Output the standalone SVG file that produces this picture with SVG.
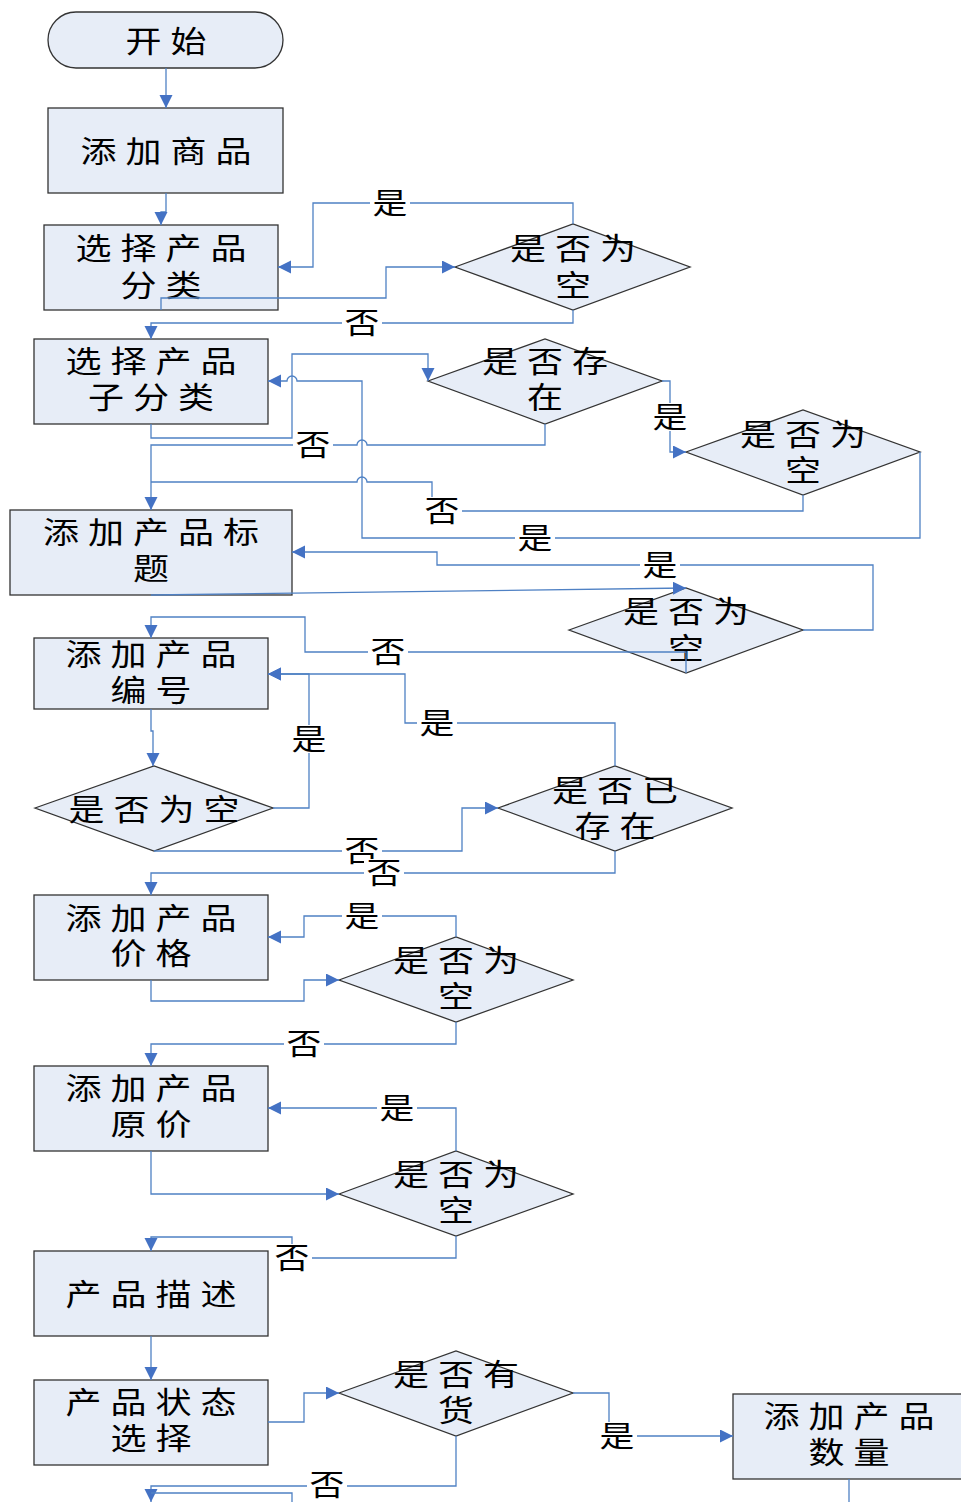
<svg xmlns="http://www.w3.org/2000/svg" width="961" height="1502" viewBox="0 0 961 1502">
<style>
.n{fill:#E7EDF7;stroke:#333;stroke-width:1.3}
.t{font-family:"Noto Sans CJK SC","Noto Sans CJK JP",sans-serif;font-size:30px;letter-spacing:7.5px;text-anchor:middle;fill:#000}
.c path{fill:none;stroke:#4F81C4;stroke-width:1.3}
.lb rect{fill:#fff}
.lb text{font-family:"Noto Sans CJK SC","Noto Sans CJK JP",sans-serif;font-size:29px;text-anchor:middle;fill:#000}
</style>
<defs>
<marker id="a" markerUnits="userSpaceOnUse" markerWidth="14" markerHeight="14" refX="13" refY="6.5" orient="auto"><path d="M0,0 L13,6.5 L0,13 z" fill="#4472C4"/></marker>
</defs>
<rect width="961" height="1502" fill="#fff"/>

<g id="start"><rect class="n" x="48" y="12" width="235" height="56" rx="28" ry="28"/><text class="t" transform="translate(170.5,51.5) scale(1.2,1)">开始</text></g>
<g id="n1"><rect class="n" x="48" y="108" width="235" height="85"/><text class="t" transform="translate(170.5,161.5) scale(1.2,1)">添加商品</text></g>
<g id="n2"><rect class="n" x="44" y="225" width="234" height="85"/><text class="t" transform="translate(165.5,258.5) scale(1.2,1)">选择产品</text><text class="t" transform="translate(165.5,295.5) scale(1.2,1)">分类</text></g>
<g id="n3"><rect class="n" x="34" y="339" width="234" height="85"/><text class="t" transform="translate(155.5,371.5) scale(1.2,1)">选择产品</text><text class="t" transform="translate(155.5,407.5) scale(1.2,1)">子分类</text></g>
<g id="n4"><rect class="n" x="10" y="510" width="282" height="85"/><text class="t" transform="translate(155.5,542.5) scale(1.2,1)">添加产品标</text><text class="t" transform="translate(155.5,578.5) scale(1.2,1)">题</text></g>
<g id="n5"><rect class="n" x="34" y="638" width="234" height="71"/><text class="t" transform="translate(155.5,664.5) scale(1.2,1)">添加产品</text><text class="t" transform="translate(155.5,700.5) scale(1.2,1)">编号</text></g>
<g id="n6"><rect class="n" x="34" y="895" width="234" height="85"/><text class="t" transform="translate(155.5,928.5) scale(1.2,1)">添加产品</text><text class="t" transform="translate(155.5,963.5) scale(1.2,1)">价格</text></g>
<g id="n7"><rect class="n" x="34" y="1066" width="234" height="85"/><text class="t" transform="translate(155.5,1098.5) scale(1.2,1)">添加产品</text><text class="t" transform="translate(155.5,1134.5) scale(1.2,1)">原价</text></g>
<g id="n8"><rect class="n" x="34" y="1251" width="234" height="85"/><text class="t" transform="translate(155.5,1304.5) scale(1.2,1)">产品描述</text></g>
<g id="n9"><rect class="n" x="34" y="1380" width="234" height="85"/><text class="t" transform="translate(155.5,1412.5) scale(1.2,1)">产品状态</text><text class="t" transform="translate(155.5,1448.5) scale(1.2,1)">选择</text></g>
<g id="n10"><rect class="n" x="733" y="1394" width="240" height="85"/><text class="t" transform="translate(853.5,1426.5) scale(1.2,1)">添加产品</text><text class="t" transform="translate(853.5,1462.5) scale(1.2,1)">数量</text></g>

<g id="d1"><polygon class="n" points="455,267 573,224 690,267 573,310"/><text class="t" transform="translate(577.5,258.5) scale(1.2,1)">是否为</text><text class="t" transform="translate(577.5,295.5) scale(1.2,1)">空</text></g>
<g id="d2"><polygon class="n" points="428,381 545,339 662,381 545,424"/><text class="t" transform="translate(549.5,371.5) scale(1.2,1)">是否存</text><text class="t" transform="translate(549.5,407.5) scale(1.2,1)">在</text></g>
<g id="d3"><polygon class="n" points="686,452 803,410 920,452 803,495"/><text class="t" transform="translate(807.5,444.5) scale(1.2,1)">是否为</text><text class="t" transform="translate(807.5,480.5) scale(1.2,1)">空</text></g>
<g id="d4"><polygon class="n" points="569,630 686,588 803,630 686,673"/><text class="t" transform="translate(690.5,621.5) scale(1.2,1)">是否为</text><text class="t" transform="translate(690.5,658.5) scale(1.2,1)">空</text></g>
<g id="d5"><polygon class="n" points="35,808 154,766 273,808 154,851"/><text class="t" transform="translate(158.5,819.5) scale(1.2,1)">是否为空</text></g>
<g id="d6"><polygon class="n" points="498,808 615,766 732,808 615,851"/><text class="t" transform="translate(619.5,800.5) scale(1.2,1)">是否已</text><text class="t" transform="translate(619.5,836.5) scale(1.2,1)">存在</text></g>
<g id="d7"><polygon class="n" points="339,980 456,937 573,980 456,1022"/><text class="t" transform="translate(460.5,970.5) scale(1.2,1)">是否为</text><text class="t" transform="translate(460.5,1006.5) scale(1.2,1)">空</text></g>
<g id="d8"><polygon class="n" points="339,1194 456,1151 573,1194 456,1236"/><text class="t" transform="translate(460.5,1184.5) scale(1.2,1)">是否为</text><text class="t" transform="translate(460.5,1220.5) scale(1.2,1)">空</text></g>
<g id="d9"><polygon class="n" points="339,1393 456,1351 573,1393 456,1436"/><text class="t" transform="translate(460.5,1384.5) scale(1.2,1)">是否有</text><text class="t" transform="translate(460.5,1420.5) scale(1.2,1)">货</text></g>

<g class="c" id="connectors">
<path d="M166,68 V108" marker-end="url(#a)"/>
<path d="M166,193 V212 H161 V225" marker-end="url(#a)"/>
<path d="M573,224 V203 H313 V267 H278" marker-end="url(#a)"/>
<path d="M161,310 V298 H386 V267 H455" marker-end="url(#a)"/>
<path d="M573,310 V323 H151 V339" marker-end="url(#a)"/>
<path d="M151,424 V438 H292 V354 H428 V381" marker-end="url(#a)"/>
<path d="M545,424 V445 H367 A5,5 0 0 0 357,445 H151 V510" marker-end="url(#a)"/>
<path d="M662,381 H670 V452 H686" marker-end="url(#a)"/>
<path d="M803,495 V511 H432 V482 H367 A5,5 0 0 0 357,482 H151"/>
<path d="M920,452 V538 H362 V381 H297 A5,5 0 0 0 287,381 H268" marker-end="url(#a)"/>
<path d="M151,595 L686,588" marker-end="url(#a)"/>
<path d="M803,630 H873 V565 H437 V552 H292" marker-end="url(#a)"/>
<path d="M686,673 V652 H305 V617 H151 V638" marker-end="url(#a)"/>
<path d="M151,709 V731 H153 V766" marker-end="url(#a)"/>
<path d="M273,808 H309 V674 H268" marker-end="url(#a)"/>
<path d="M154,851 H462 V808 H498" marker-end="url(#a)"/>
<path d="M615,766 V723 H405 V674 H268" marker-end="url(#a)"/>
<path d="M615,851 V873 H151 V895" marker-end="url(#a)"/>
<path d="M151,980 V1001 H304 V980 H339" marker-end="url(#a)"/>
<path d="M456,937 V916 H304 V937 H268" marker-end="url(#a)"/>
<path d="M456,1022 V1044 H151 V1066" marker-end="url(#a)"/>
<path d="M151,1151 V1194 H339" marker-end="url(#a)"/>
<path d="M456,1151 V1108 H268" marker-end="url(#a)"/>
<path d="M456,1236 V1258 H292 V1237 H151 V1251" marker-end="url(#a)"/>
<path d="M151,1336 V1380" marker-end="url(#a)"/>
<path d="M268,1422 H304 V1393 H339" marker-end="url(#a)"/>
<path d="M573,1393 H609 V1436 H733" marker-end="url(#a)"/>
<path d="M456,1436 V1486 H151 V1502" marker-end="url(#a)"/>
<path d="M151,1493 H292 V1502"/>
<path d="M849,1479 V1502"/>
</g>

<g class="lb" id="labels">
<rect x="370" y="189" width="40" height="28"/><text transform="translate(390,213.5) scale(1.2,1)">是</text>
<rect x="342" y="309" width="40" height="28"/><text transform="translate(362,333.5) scale(1.2,1)">否</text>
<rect x="293" y="431" width="40" height="28"/><text transform="translate(313,455.5) scale(1.2,1)">否</text>
<rect x="650" y="403" width="40" height="28"/><text transform="translate(670,427.5) scale(1.2,1)">是</text>
<rect x="422" y="497" width="40" height="28"/><text transform="translate(442,521.5) scale(1.2,1)">否</text>
<rect x="515" y="524" width="40" height="28"/><text transform="translate(535,548.5) scale(1.2,1)">是</text>
<rect x="640" y="551" width="40" height="28"/><text transform="translate(660,575.5) scale(1.2,1)">是</text>
<rect x="368" y="638" width="40" height="28"/><text transform="translate(388,662.5) scale(1.2,1)">否</text>
<rect x="289" y="725" width="40" height="28"/><text transform="translate(309,749.5) scale(1.2,1)">是</text>
<rect x="417" y="709" width="40" height="28"/><text transform="translate(437,733.5) scale(1.2,1)">是</text>
<rect x="342" y="837" width="40" height="28"/><text transform="translate(362,861.5) scale(1.2,1)">否</text>
<rect x="364" y="859" width="40" height="28"/><text transform="translate(384,883.5) scale(1.2,1)">否</text>
<rect x="342" y="902" width="40" height="28"/><text transform="translate(362,926.5) scale(1.2,1)">是</text>
<rect x="284" y="1030" width="40" height="28"/><text transform="translate(304,1054.5) scale(1.2,1)">否</text>
<rect x="377" y="1094" width="40" height="28"/><text transform="translate(397,1118.5) scale(1.2,1)">是</text>
<rect x="272" y="1244" width="40" height="28"/><text transform="translate(292,1268.5) scale(1.2,1)">否</text>
<rect x="597" y="1422" width="40" height="28"/><text transform="translate(617,1446.5) scale(1.2,1)">是</text>
<rect x="307" y="1472" width="40" height="28"/><text transform="translate(327,1495.5) scale(1.2,1)">否</text>
</g>
</svg>
